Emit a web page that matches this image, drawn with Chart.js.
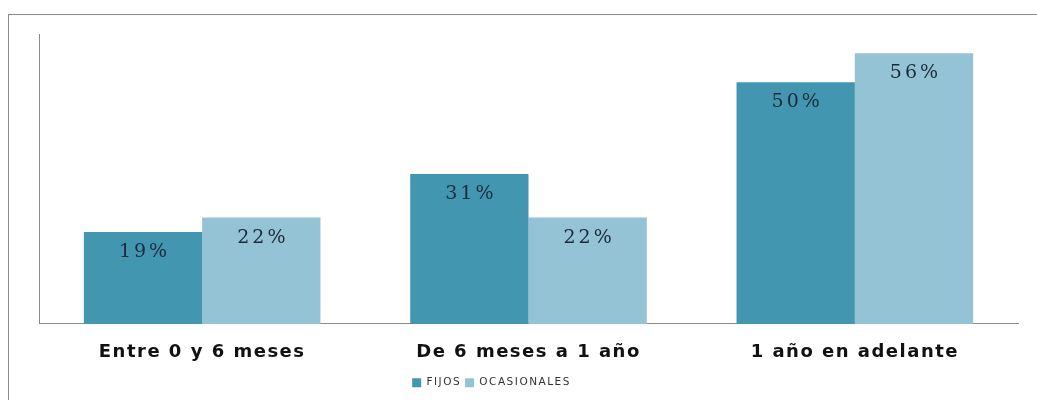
<!DOCTYPE html>
<html><head><meta charset="utf-8">
<script src="https://cdn.jsdelivr.net/npm/chart.js@4"></script>
<style>html,body{margin:0;padding:0;background:#fff}#wrap{width:1037px;height:400px}</style>
</head><body><div id="wrap"><canvas id="c" width="1037" height="400"></canvas></div>
<script>
const categories = ["Entre 0 y 6 meses", "De 6 meses a 1 año", "1 año en adelante"];
const fijos = [19, 31, 50];
const ocasionales = [22, 22, 56];
const seriesNames = ["FIJOS", "OCASIONALES"];

const spacing = {
  id: 'spacing',
  beforeUpdate(chart) { chart.ctx.letterSpacing = '1.5px'; },
  beforeDraw(chart) { chart.ctx.letterSpacing = '1.5px'; }
};
const legendShift = {
  id: 'legendShift',
  afterLayout(chart) {
    if (chart.legend) { chart.legend.left -= 33; chart.legend.right -= 33; }
  }
};
const frame = {
  id: 'frame',
  beforeDraw(chart) {
    const ctx = chart.ctx;
    ctx.save();
    ctx.strokeStyle = '#8a8a8a';
    ctx.lineWidth = 1;
    ctx.strokeRect(8.5, 14.5, chart.width + 20, chart.height + 20);
    ctx.restore();
  }
};
const valueLabels = {
  id: 'valueLabels',
  afterDatasetsDraw(chart) {
    const ctx = chart.ctx;
    ctx.save();
    ctx.letterSpacing = '3px';
    ctx.font = '19px "DejaVu Serif"';
    ctx.fillStyle = '#1c2b3a';
    ctx.textAlign = 'center';
    ctx.textBaseline = 'middle';
    chart.data.datasets.forEach((ds, i) => {
      chart.getDatasetMeta(i).data.forEach((bar, j) => {
        ctx.fillText(ds.data[j] + '%', bar.x + 1.5, bar.y + 20);
      });
    });
    ctx.restore();
  }
};

new Chart(document.getElementById('c'), {
  type: 'bar',
  data: {
    labels: categories,
    datasets: [
      { label: seriesNames[0], data: fijos, backgroundColor: '#4296b0' },
      { label: seriesNames[1], data: ocasionales, backgroundColor: '#93c3d5' }
    ]
  },
  options: {
    responsive: false,
    animation: false,
    layout: { padding: { left: 31, right: 19, top: 34, bottom: 2 } },
    datasets: { bar: { categoryPercentage: 0.725, barPercentage: 1 } },
    scales: {
      x: {
        grid: { display: false },
        border: { display: true, color: '#8a8a8a', width: 1 },
        ticks: { color: '#111', font: { family: 'DejaVu Sans', size: 18, weight: 'bold' }, padding: 10 }
      },
      y: {
        min: 0, max: 60,
        grid: { display: false },
        border: { display: true, color: '#8a8a8a', width: 1 },
        ticks: { display: false }
      }
    },
    plugins: {
      legend: {
        position: 'bottom',
        labels: { boxWidth: 9, boxHeight: 9, color: '#333', font: { family: 'DejaVu Sans', size: 10.5 }, padding: 4 }
      },
      tooltip: { enabled: false }
    }
  },
  plugins: [spacing, legendShift, frame, valueLabels]
});
</script></body></html>
